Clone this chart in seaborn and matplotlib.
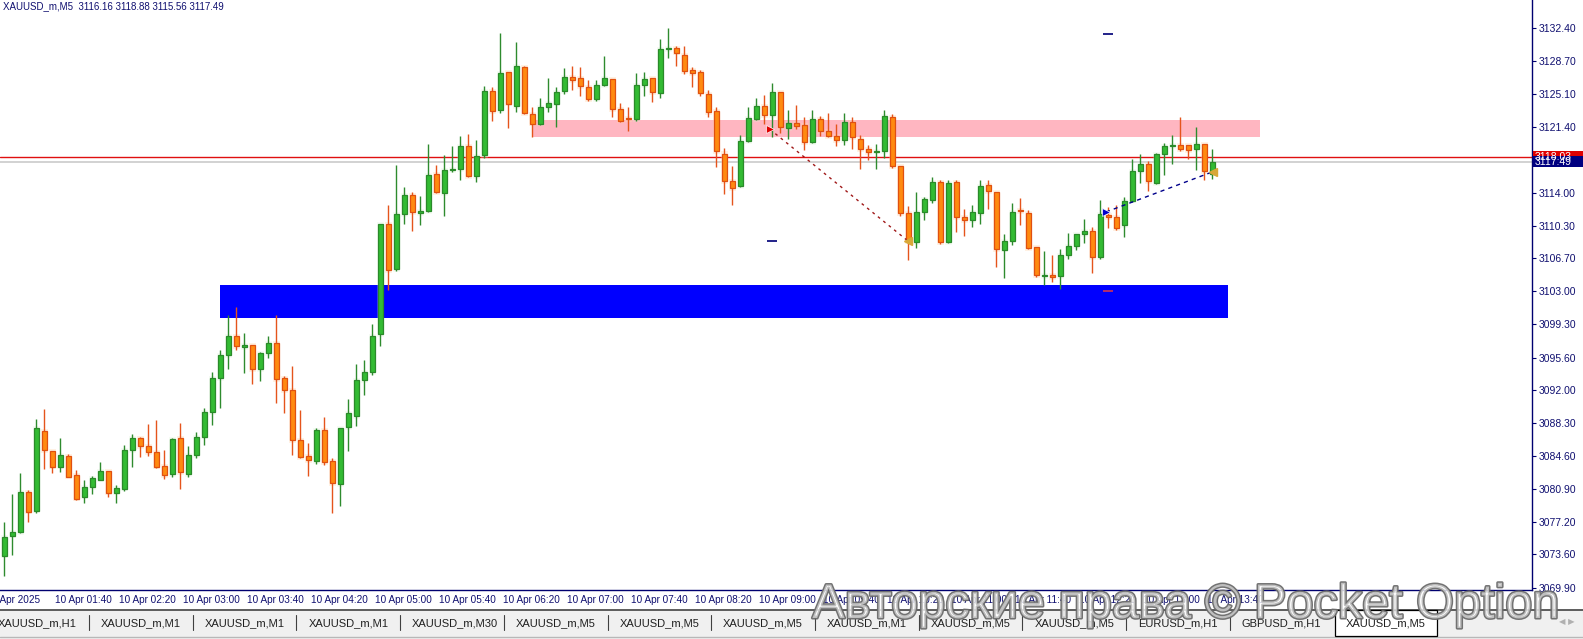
import numpy as np
import matplotlib
matplotlib.use("Agg")
import matplotlib.pyplot as plt
import matplotlib.transforms as mtransforms
import matplotlib.patheffects as pe
from matplotlib.patches import Rectangle
import seaborn as sns

# ---------------- data (XAUUSD_m, M5, 10 Apr 2025, bars 01:10 .. 13:45) ----------------
opens = [3073.47, 3075.71, 3076.08, 3080.55, 3078.50, 3087.37, 3085.13, 3083.42, 3084.57, 3082.45,
         3080.07, 3081.11, 3081.96, 3082.90, 3080.44, 3080.96, 3085.24, 3086.58, 3085.69, 3085.02,
         3083.46, 3082.56, 3086.58, 3082.56, 3084.68, 3086.70, 3089.49, 3093.29, 3095.86, 3097.98,
         3096.75, 3096.97, 3094.29, 3096.08, 3097.20, 3093.28, 3091.94, 3086.36, 3084.57, 3084.01,
         3087.47, 3084.01, 3081.44, 3087.81, 3089.04, 3093.06, 3093.96, 3098.20, 3110.49, 3105.47,
         3111.61, 3113.73, 3111.72, 3111.95, 3116.08, 3113.96, 3116.53, 3116.64, 3119.21, 3115.86,
         3118.21, 3125.36, 3123.23, 3127.48, 3123.68, 3128.04, 3122.79, 3121.75, 3123.57, 3123.91,
         3125.36, 3126.92, 3126.81, 3125.81, 3124.46, 3126.03, 3126.70, 3123.35, 3122.34, 3122.23,
         3126.03, 3126.81, 3125.14, 3130.05, 3130.16, 3129.38, 3127.71, 3127.48, 3125.02, 3123.12,
         3118.39, 3115.30, 3114.74, 3119.77, 3122.22, 3123.68, 3122.67, 3125.24, 3121.22, 3121.78,
         3121.55, 3119.66, 3122.22, 3120.88, 3120.32, 3119.88, 3121.89, 3119.99, 3118.87, 3118.57,
         3118.65, 3122.45, 3116.97, 3111.72, 3108.48, 3111.83, 3113.17, 3115.18, 3108.48, 3115.18,
         3111.27, 3110.94, 3111.72, 3114.85, 3114.07, 3107.66, 3108.60, 3112.06, 3111.72, 3107.92,
         3104.68, 3104.80, 3104.68, 3107.03, 3108.04, 3109.38, 3109.71, 3106.81, 3111.50, 3111.28,
         3110.38, 3113.07, 3116.42, 3117.20, 3115.08, 3118.32, 3119.21, 3119.32, 3119.32, 3118.88,
         3119.44, 3116.16]
highs = [3077.20, 3080.36, 3082.71, 3080.81, 3088.74, 3089.86, 3085.20, 3086.62, 3084.80, 3083.01,
         3081.89, 3082.34, 3083.90, 3082.95, 3081.33, 3085.80, 3087.03, 3086.77, 3088.18, 3088.63,
         3085.28, 3086.58, 3088.26, 3085.73, 3087.25, 3089.94, 3093.96, 3096.42, 3100.33, 3101.22,
         3098.32, 3097.05, 3096.23, 3098.02, 3100.36, 3093.54, 3094.66, 3089.75, 3086.10, 3087.70,
         3088.96, 3084.35, 3087.75, 3090.98, 3094.85, 3095.33, 3099.32, 3110.55, 3112.62, 3117.09,
         3114.63, 3114.07, 3113.62, 3119.43, 3117.09, 3118.21, 3119.21, 3120.33, 3120.55, 3119.88,
         3125.92, 3125.81, 3131.84, 3127.56, 3130.83, 3128.15, 3123.57, 3124.58, 3126.81, 3125.81,
         3127.93, 3128.15, 3128.04, 3126.59, 3126.59, 3129.27, 3126.75, 3124.02, 3123.57, 3127.37,
         3127.48, 3126.85, 3131.17, 3132.40, 3130.39, 3130.39, 3128.04, 3127.71, 3125.47, 3123.57,
         3118.99, 3116.98, 3120.44, 3123.57, 3124.57, 3124.91, 3126.25, 3125.30, 3123.23, 3123.79,
         3122.45, 3123.23, 3122.56, 3122.90, 3121.67, 3122.90, 3122.45, 3120.44, 3119.32, 3119.43,
         3123.23, 3122.78, 3117.00, 3112.50, 3114.07, 3113.51, 3115.74, 3115.41, 3115.41, 3115.41,
         3112.17, 3112.61, 3115.41, 3115.41, 3114.10, 3109.38, 3112.84, 3113.40, 3112.06, 3107.95,
         3107.48, 3107.03, 3107.70, 3109.49, 3109.40, 3111.05, 3110.16, 3113.18, 3112.40, 3112.62,
         3113.51, 3117.76, 3118.32, 3117.54, 3118.43, 3119.55, 3120.44, 3122.45, 3119.35, 3121.34,
         3119.47, 3118.88]
lows = [3071.24, 3073.55, 3076.00, 3077.27, 3078.28, 3083.19, 3082.75, 3082.86, 3082.25, 3079.73,
        3079.39, 3080.40, 3081.89, 3080.07, 3079.39, 3080.74, 3083.42, 3084.54, 3084.65, 3083.31,
        3082.08, 3082.30, 3080.96, 3082.23, 3084.35, 3085.80, 3088.04, 3089.94, 3094.37, 3096.42,
        3093.85, 3092.61, 3093.02, 3095.52, 3090.49, 3089.37, 3084.76, 3084.40, 3082.41, 3083.68,
        3083.56, 3078.20, 3078.98, 3085.13, 3087.92, 3091.39, 3093.62, 3096.86, 3103.12, 3105.24,
        3110.49, 3109.71, 3110.38, 3111.84, 3113.96, 3111.39, 3116.31, 3115.41, 3115.75, 3115.19,
        3117.87, 3122.00, 3122.90, 3121.22, 3123.01, 3122.85, 3120.22, 3121.63, 3123.01, 3121.41,
        3125.02, 3125.47, 3124.80, 3124.24, 3124.24, 3125.98, 3122.45, 3121.95, 3120.89, 3122.01,
        3124.80, 3124.13, 3124.58, 3129.05, 3128.15, 3127.26, 3125.81, 3124.80, 3122.45, 3116.94,
        3113.85, 3112.62, 3114.70, 3119.70, 3122.11, 3121.67, 3120.21, 3120.66, 3119.99, 3121.11,
        3118.76, 3119.60, 3120.32, 3120.28, 3119.21, 3119.32, 3118.87, 3116.64, 3117.64, 3116.64,
        3117.87, 3116.75, 3111.39, 3106.47, 3107.81, 3110.94, 3112.84, 3108.26, 3108.45, 3109.60,
        3109.15, 3110.16, 3110.49, 3112.17, 3105.69, 3104.54, 3108.15, 3110.46, 3107.78, 3104.57,
        3103.68, 3104.01, 3103.23, 3106.58, 3107.59, 3108.37, 3105.02, 3106.58, 3110.05, 3109.83,
        3109.04, 3112.95, 3115.08, 3114.18, 3115.05, 3115.97, 3117.20, 3118.65, 3117.76, 3116.53,
        3115.41, 3115.56]
closes = [3075.52, 3076.08, 3080.55, 3078.39, 3087.70, 3085.24, 3083.42, 3084.68, 3082.30, 3079.84,
          3081.11, 3082.11, 3082.90, 3080.44, 3081.00, 3085.24, 3086.58, 3085.69, 3085.02, 3083.42,
          3082.45, 3086.47, 3082.78, 3084.68, 3086.70, 3089.49, 3093.29, 3095.86, 3097.98, 3096.86,
          3096.98, 3094.29, 3096.08, 3097.20, 3093.17, 3091.94, 3086.36, 3084.46, 3084.12, 3087.47,
          3083.90, 3081.55, 3087.70, 3089.37, 3093.06, 3093.96, 3097.98, 3110.49, 3105.35, 3111.61,
          3113.73, 3111.84, 3111.95, 3115.97, 3114.07, 3116.53, 3116.64, 3119.21, 3115.86, 3118.09,
          3125.36, 3123.12, 3127.37, 3123.91, 3128.15, 3122.90, 3121.75, 3123.57, 3124.02, 3125.25,
          3126.92, 3126.59, 3125.92, 3124.46, 3126.03, 3126.81, 3123.35, 3122.01, 3122.23, 3126.03,
          3126.70, 3125.25, 3130.05, 3130.16, 3129.61, 3127.59, 3127.37, 3125.14, 3123.01, 3118.65,
          3115.30, 3114.52, 3119.77, 3122.34, 3123.68, 3122.67, 3125.24, 3121.33, 3121.78, 3121.44,
          3119.66, 3122.22, 3120.88, 3120.32, 3119.88, 3121.89, 3120.21, 3118.87, 3118.54, 3118.65,
          3122.56, 3116.97, 3111.72, 3108.59, 3111.83, 3113.28, 3115.18, 3108.48, 3115.07, 3111.27,
          3110.94, 3111.83, 3114.74, 3114.18, 3107.68, 3108.60, 3111.84, 3111.95, 3107.81, 3104.80,
          3104.80, 3104.57, 3107.03, 3108.04, 3109.38, 3109.71, 3106.81, 3111.61, 3111.28, 3110.05,
          3113.07, 3116.42, 3117.20, 3115.30, 3118.32, 3119.21, 3119.32, 3118.88, 3118.76, 3119.44,
          3116.42, 3117.49]

first_bar = "01:10"
xtick_bars = [6 + 8 * k for k in range(19)]
xtick_labels = ["10 Apr 01:40", "10 Apr 02:20", "10 Apr 03:00", "10 Apr 03:40", "10 Apr 04:20",
                "10 Apr 05:00", "10 Apr 05:40", "10 Apr 06:20", "10 Apr 07:00", "10 Apr 07:40",
                "10 Apr 08:20", "10 Apr 09:00", "10 Apr 09:40", "10 Apr 10:20", "10 Apr 11:00",
                "10 Apr 11:40", "10 Apr 12:20", "10 Apr 13:00", "10 Apr 13:40"]
ytick_values = [3132.40, 3128.70, 3125.10, 3121.40, 3117.70, 3114.00, 3110.30, 3106.70, 3103.00,
                3099.30, 3095.60, 3092.00, 3088.30, 3084.60, 3080.90, 3077.20, 3073.60, 3069.90]

bid_price = 3117.49
ask_price = 3118.03

# zones: (start bar, end bar, low price, high price)
supply_zone = [65.96, 156.96, 3120.29, 3122.15]
demand_zone = [26.96, 152.96, 3100.08, 3103.71]

# trend lines: bars / prices
red_line_bars = [95.7, 113.0]
red_line_prices = [3121.11, 3108.60]
blue_line_bars = [137.7, 151.1]
blue_line_prices = [3111.87, 3116.38]
navy_dash_bars = [96.0, 137.9]
navy_dash_prices = [3108.60, 3131.73]
red_dash_bars = [138.0]
red_dash_prices = [3103.08]

tabs = ["XAUUSD_m,H1", "XAUUSD_m,M1", "XAUUSD_m,M1", "XAUUSD_m,M1", "XAUUSD_m,M30",
        "XAUUSD_m,M5", "XAUUSD_m,M5", "XAUUSD_m,M5", "XAUUSD_m,M1", "XAUUSD_m,M5",
        "XAUUSD_m,M5", "EURUSD_m,H1", "GBPUSD_m,H1", "XAUUSD_m,M5"]

# ---------------- figure ----------------
sns.set_theme(style="white")
plt.rcParams["font.family"] = ["Liberation Sans", "DejaVu Sans"]

W, H = 1583, 639
fig = plt.figure(figsize=(W / 100, H / 100), dpi=100, facecolor="white")
AX_R = 1531.5
AX_B = 590
ax = fig.add_axes([0, 1 - AX_B / H, AX_R / W, AX_B / H])
ax.set_facecolor("white")

NAVY = "#101070"
O = np.array(opens); Hh = np.array(highs); L = np.array(lows); C = np.array(closes)
n = len(O)
idx = np.arange(n)
up = C >= O

ax.set_xlim(-0.541, 190.9)
ax.set_ylim(3069.63, 3135.56)

# zones
ax.add_patch(Rectangle((supply_zone[0], supply_zone[2]), supply_zone[1] - supply_zone[0],
                       supply_zone[3] - supply_zone[2], color="#ffb6c1", lw=0, zorder=1))
ax.add_patch(Rectangle((demand_zone[0], demand_zone[2]), demand_zone[1] - demand_zone[0],
                       demand_zone[3] - demand_zone[2], color="#0000ff", lw=0, zorder=1))

# price lines
ax.axhline(ask_price, color="#e01010", lw=1.0, zorder=1.5)
ax.axhline(bid_price, color="#cfcfcf", lw=1.3, zorder=1.5)

# candles
g_fill, g_edge, g_wick = "#33bb33", "#2a8a2a", "#2e8b2e"
o_fill, o_edge, o_wick = "#ff8a10", "#e05010", "#e5541c"
bot = np.minimum(O, C)
hgt = np.abs(C - O)

# soft glow
ax.bar(idx[~up], hgt[~up] + 0.5, bottom=bot[~up] - 0.25, width=0.95, color="#ffd9b0",
       alpha=0.35, lw=0, zorder=2)
ax.bar(idx[up], hgt[up] + 0.5, bottom=bot[up] - 0.25, width=0.95, color="#d8f0d0",
       alpha=0.25, lw=0, zorder=2)

ax.vlines(idx[up], L[up], Hh[up], color=g_wick, lw=1.0, zorder=3)
ax.vlines(idx[~up], L[~up], Hh[~up], color=o_wick, lw=1.0, zorder=3)
ax.bar(idx[up], hgt[up], bottom=bot[up], width=0.58, color=g_fill, edgecolor=g_edge,
       linewidth=0.9, zorder=4)
ax.bar(idx[~up], hgt[~up], bottom=bot[~up], width=0.58, color=o_fill, edgecolor=o_edge,
       linewidth=0.9, zorder=4)

# trend lines
sns.lineplot(x=red_line_bars, y=red_line_prices, ax=ax, color="#a01818", lw=1.0,
             linestyle=(0, (2, 3)), zorder=5, legend=False)
sns.lineplot(x=blue_line_bars, y=blue_line_prices, ax=ax, color="#00008b", lw=1.0,
             linestyle=(0, (3, 3)), zorder=5, legend=False)
ax.plot(red_line_bars[0], red_line_prices[0], marker=">", color="#e00000", ms=6,
        mec="white", mew=0.5, zorder=6)
ax.plot(red_line_bars[1], red_line_prices[1], marker="<", color="#d8a838", ms=6, zorder=6)
ax.plot(blue_line_bars[0], blue_line_prices[0], marker=">", color="#0000cc", ms=6,
        mec="white", mew=0.5, zorder=6)
ax.plot(blue_line_bars[1], blue_line_prices[1], marker="<", color="#d8a838", ms=6, zorder=6)
ax.plot(navy_dash_bars, navy_dash_prices, ls="none", marker="_", color="#101080", ms=7,
        mew=1.3, zorder=6)
ax.plot(red_dash_bars, red_dash_prices, ls="none", marker="_", color="#c03060", ms=7,
        mew=1.3, zorder=6)

# axes styling
for s in ["top", "left"]:
    ax.spines[s].set_visible(False)
for s in ["right", "bottom"]:
    ax.spines[s].set_color("#000070")
    ax.spines[s].set_linewidth(1.0)
ax.grid(False)

ax.yaxis.tick_right()
ax.set_yticks(ytick_values)
ax.set_yticklabels([f"{v:.2f}" for v in ytick_values])
ax.tick_params(axis="y", direction="out", length=3, width=0.8, colors="#000070",
               labelcolor=NAVY, labelsize=7.5, pad=2.5)

ax.set_xticks(xtick_bars)
ax.set_xticklabels(xtick_labels)
ax.tick_params(axis="x", direction="out", length=3, width=0.8, colors="#000070",
               labelcolor=NAVY, labelsize=7.2, pad=0.5)
offset = mtransforms.ScaledTranslation(2 / 72, 0, fig.dpi_scale_trans)
for lbl in ax.get_xticklabels():
    lbl.set_horizontalalignment("left")
    lbl.set_transform(lbl.get_transform() + offset)

ax.annotate("10 Apr 2025", xy=(-2.54, 0), xycoords=("data", "axes fraction"),
            xytext=(1.5, -3.6), textcoords="offset points", ha="left", va="top",
            fontsize=7.2, color=NAVY, annotation_clip=False)

# header
fig.text(3 / W, 1 - 6 / H,
         f"XAUUSD_m,M5  {opens[-1]:.2f} {highs[-1]:.2f} {lows[-1]:.2f} {closes[-1]:.2f}",
         ha="left", va="center", fontsize=7, color=NAVY)

# price labels at right
bt = mtransforms.blended_transform_factory(fig.transFigure, ax.transData)
box_h = 11 * (ax.get_ylim()[1] - ax.get_ylim()[0]) / AX_B
for price, col in [(ask_price, "#e00000"), (bid_price, "#000080")]:
    fig.add_artist(Rectangle((1532.5 / W, price - box_h / 2), (W - 1532.5) / W, box_h,
                             transform=bt, color=col, lw=0, zorder=5))
    fig.add_artist(plt.Text(1535 / W, price, f"{price:.2f}", transform=bt, color="white",
                            fontsize=7.5, ha="left", va="center", zorder=6))

# tab bar
fig.add_artist(Rectangle((0, 0), 1, 29 / H, transform=fig.transFigure, color="#f0f0f0",
                         lw=0, zorder=1))
fig.add_artist(plt.Line2D([0, 1], [1 - 610 / H, 1 - 610 / H], transform=fig.transFigure,
                          color="#505050", lw=1.3, zorder=2))
fig.add_artist(plt.Line2D([0, 1], [1 - 637 / H, 1 - 637 / H], transform=fig.transFigure,
                          color="#b8b8b8", lw=1.0, zorder=2))
sep0, step = 89.0, 103.7
for k, name in enumerate(tabs[:-1]):
    x0 = -2 if k == 0 else sep0 + step * (k - 1) + 12
    fig.text(x0 / W, 1 - 623 / H, name, ha="left", va="center", fontsize=8, color="#202020")
    if k < len(tabs) - 2:
        sx = sep0 + step * k
        fig.add_artist(plt.Line2D([sx / W, sx / W], [1 - 630 / H, 1 - 615 / H],
                                  transform=fig.transFigure, color="#404040", lw=0.8, zorder=2))
fig.add_artist(Rectangle((1335 / W, 1 - 636 / H), 102 / W, 26 / H, transform=fig.transFigure,
                         facecolor="white", edgecolor="black", lw=0.9, zorder=2))
fig.text(1386 / W, 1 - 623 / H, tabs[-1], ha="center", va="center", fontsize=8, color="#202020")
fig.text(1567 / W, 1 - 622 / H, "◀ ▶", ha="center", va="center", fontsize=6,
         color="#b0b0b0", family=["DejaVu Sans"])

# watermark
fig.text(1186 / W, 1 - 618 / H, "Авторские права © Pocket Option", ha="center", va="baseline",
         fontsize=35, color=(1, 1, 1, 0.55), zorder=10,
         path_effects=[pe.withStroke(linewidth=2.2, foreground=(0.42, 0.42, 0.42, 0.95))])

fig.savefig("out.png", dpi=100, facecolor="white")
